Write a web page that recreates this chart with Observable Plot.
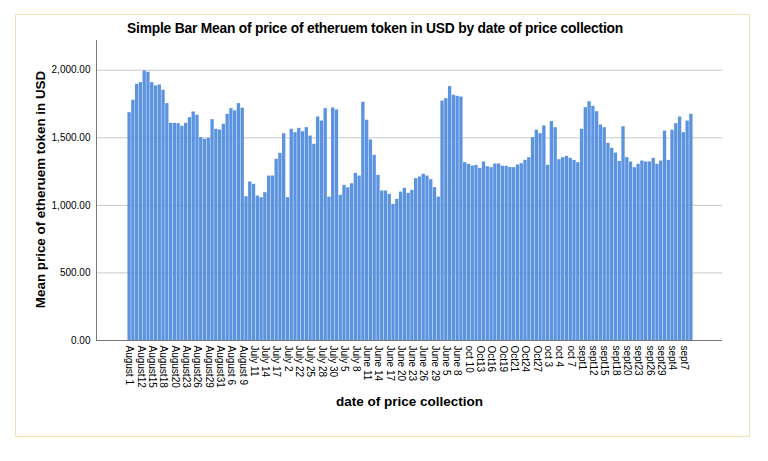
<!DOCTYPE html>
<html>
<head>
<meta charset="utf-8">
<script src="https://cdn.jsdelivr.net/npm/d3@7"></script>
<script src="https://cdn.jsdelivr.net/npm/@observablehq/plot@0.6"></script>
<style>
  html, body { margin: 0; padding: 0; background: #ffffff; }
  body { position: relative; width: 768px; height: 461px; overflow: hidden; font-family: "Liberation Sans", Arial, sans-serif; }
  #frame { position: absolute; left: 15px; top: 14px; width: 735px; height: 423px; border: 1px solid #efe4ad; box-sizing: border-box; }
  #title { position: absolute; left: 0; top: 21px; width: 750px; text-align: center; font-size: 13.8px; font-weight: bold; color: #000; letter-spacing: -0.2px; }
  #chart { position: absolute; left: 0; top: 35px; }
</style>
</head>
<body>
<div id="frame"></div>
<div id="title">Simple Bar Mean of price of etheruem token in USD by date of price collection</div>
<div id="chart"></div>
<script>
const categories = [
  "August 1","August 10","August 11","August12","August13","August14","August15","August16","August17","August18",
  "August19","August2","August20","August21","August22","August23","August24","August25","August26","August27",
  "August28","August29","August3","August30","August31","August 4","August 5","August 6","August 7","August 8",
  "August 9","July 1","July 10","July 11","July 12","July 13","July 14","July 15","July 16","July 17",
  "July 18","July 19","July 2","July 20","July 21","July 22","July 23","July 24","July 25","July 26",
  "July 27","July 28","July 29","July 3","July 30","July 31","July 4","July 5","July 6","July 7",
  "July 8","July 9","June 10","June 11","June 12","June 13","June 14","June 15","June 16","June 17",
  "June 18","June 19","June 20","June 21","June 22","June 23","June 24","June 25","June 26","June 27",
  "June 28","June 29","June 3","June 30","June 5","June 6","June 7","June 8","June 9","oct 1",
  "oct 10","oct 11","oct 12","Oct13","Oct14","Oct15","Oct16","Oct17","Oct18","Oct19",
  "Oct2","Oct20","Oct21","Oct22","Oct23","Oct24","Oct25","Oct26","Oct27","Oct28",
  "Oct29","oct 3","oct 30","oct 31","oct 4","oct 5","oct 6","oct 7","oct 8","oct 9",
  "sept1","sept10","sept11","sept12","sept13","sept14","sept15","sept16","sept17","sept18",
  "sept19","sept2","sept20","sept21","sept22","sept23","sept24","sept25","sept26","sept27",
  "sept28","sept29","sept3","sept30","sept4","sept5","sept6","sept7","sept8","sept9"
];

const meanPrice = [
  1686,1778,1896,1908,1995,1985,1908,1884,1891,1852,
  1753,1607,1607,1605,1585,1607,1649,1691,1667,1501,
  1489,1496,1634,1563,1558,1600,1674,1716,1699,1753,
  1719,1064,1173,1156,1069,1057,1094,1217,1217,1341,
  1385,1530,1057,1563,1538,1570,1545,1575,1513,1452,
  1654,1624,1716,1061,1721,1706,1074,1148,1130,1160,
  1237,1217,1763,1630,1484,1370,1222,1106,1106,1081,
  1007,1044,1098,1126,1089,1111,1197,1210,1230,1217,
  1190,1131,1061,1772,1790,1879,1815,1807,1802,1316,
  1304,1291,1296,1274,1321,1286,1279,1306,1306,1289,
  1289,1281,1279,1299,1308,1333,1353,1501,1556,1531,
  1588,1296,1620,1575,1338,1353,1363,1348,1333,1316,
  1563,1723,1767,1733,1693,1595,1575,1459,1422,1387,
  1325,1582,1353,1321,1279,1304,1328,1321,1321,1348,
  1304,1328,1550,1333,1556,1605,1654,1538,1624,1674
];

const shownLabels = [
  "August 1","August12","August15","August18","August20","August23","August26","August29","August31","August 6",
  "August 9","July 11","July 14","July 17","July 2","July 22","July 25","July 28","July 30","July 5",
  "July 8","June 11","June 14","June 17","June 20","June 23","June 26","June 29","June 5","June 8",
  "oct 10","Oct13","Oct16","Oct19","Oct21","Oct24","Oct27","oct 3","oct 4","oct 7",
  "sept1","sept12","sept15","sept18","sept20","sept23","sept26","sept29","sept4","sept7"
];

const yTicks = [0, 500, 1000, 1500, 2000];
const xTitle = "date of price collection";
const yTitle = "Mean price of etheruem token in USD";

const data = categories.map((c, i) => ({date: c, price: meanPrice[i]}));
const shown = new Set(shownLabels);

const chart = Plot.plot({
  width: 768,
  height: 400,
  marginLeft: 96,
  marginRight: 46,
  marginTop: 5,
  marginBottom: 95,
  style: {fontFamily: "'Liberation Sans', Arial, sans-serif", fontSize: "10px", color: "#000", background: "transparent", overflow: "visible"},
  x: {domain: categories, range: [127, 693], padding: 0.12, tickRotate: 90, tickSize: 0, tickPadding: 5,
      tickFormat: d => shown.has(d) ? d : "", label: null},
  y: {domain: [0, 2220], ticks: yTicks, tickFormat: d3.format(",.2f"), tickSize: 0, tickPadding: 6, label: null},
  marks: [
    Plot.ruleY(yTicks.slice(1), {stroke: "#c8c8c8", strokeWidth: 1}),
    Plot.barY(data, {x: "date", y: "price", fill: "#5b93e0"}),
    Plot.ruleY([0], {stroke: "#777777"}),
    Plot.frame({anchor: "left", stroke: "#777777"}),
    Plot.text([yTitle], {frameAnchor: "left", textAnchor: "middle", dx: -56, dy: -1, rotate: -90, fontSize: 13.4, fontWeight: "bold", fill: "#000"}),
    Plot.text([xTitle], {frameAnchor: "bottom", dy: 65, fontSize: 13.5, fontWeight: "bold", fill: "#000"})
  ]
});
document.getElementById("chart").appendChild(chart);
</script>
</body>
</html>
